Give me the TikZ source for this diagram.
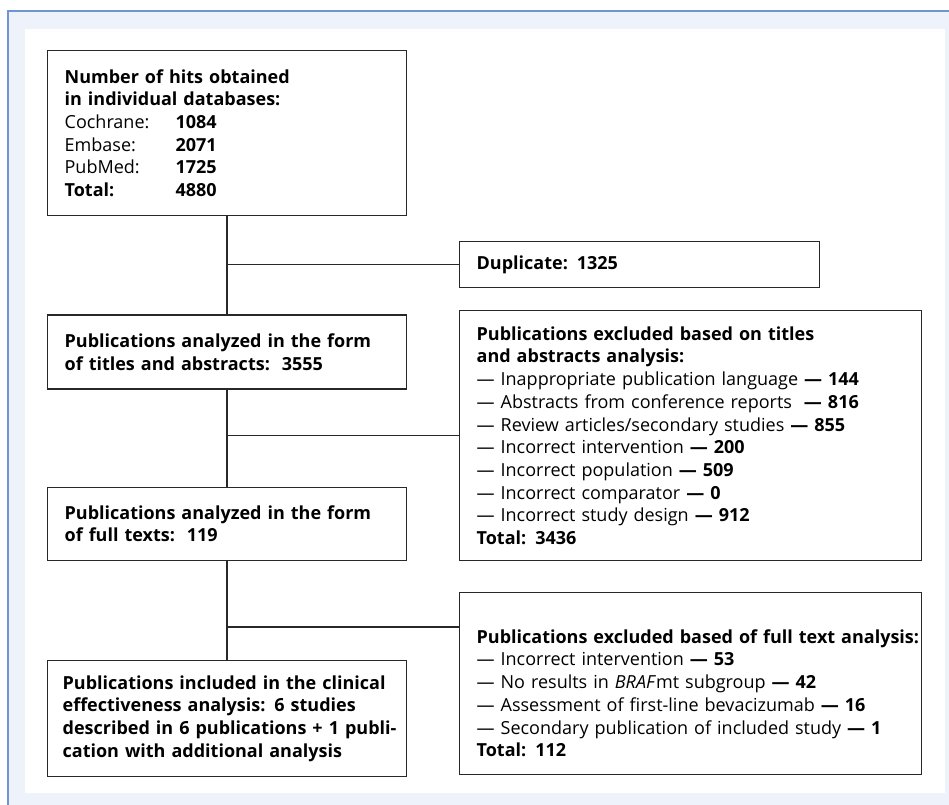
\documentclass[tikz,border=0pt]{standalone}
\usepackage{fontspec}
\setmainfont{Open Sans}
\usetikzlibrary{positioning,calc}
\definecolor{framebg}{RGB}{238,242,250}
\definecolor{frameline}{RGB}{110,150,210}
\definecolor{boxline}{RGB}{40,40,40}
\newcommand{\dbcount}[2]{\makebox[111pt][l]{#1}\textbf{#2}}

\begin{document}
\begin{tikzpicture}[
    x=1pt, y=1pt,
    font=\fontsize{18}{22.7}\selectfont,
    box/.style={draw=boxline, line width=1.3pt, align=left, inner xsep=17pt, inner ysep=0pt, anchor=north west},
    leftbox/.style={box, text width=325pt},
    rightbox/.style={box, text width=428pt},
    link/.style={draw=boxline, line width=1.4pt}
]
\useasboundingbox (0,0) rectangle (949,-804);
\begin{scope}
\clip (0,0) rectangle (949,-804);
\draw[frameline, fill=framebg, line width=1.2pt] (8,-11) rectangle (970,-830);
\end{scope}
\fill[white] (25,-29) rectangle (945,-793);

% left column
\node[leftbox, minimum height=165pt] (hits) at (47,-50) {\textbf{Number of hits obtained}\\\textbf{in individual databases:}\\
\dbcount{Cochrane:}{1084}\\\dbcount{Embase:}{2071}\\\dbcount{PubMed:}{1725}\\\dbcount{\textbf{Total:}}{4880}};
\node[leftbox, minimum height=74pt, below=98pt of hits] (titles) {\textbf{Publications analyzed in the form}\\\textbf{of titles and abstracts:\ \ 3555}};
\node[leftbox, minimum height=73pt, below=97pt of titles] (fulltext) {\textbf{Publications analyzed in the form}\\\textbf{of full texts:\ \ 119}};
\node[leftbox, minimum height=116pt, below=99pt of fulltext] (incl) {\hspace*{-2pt}\mbox{\textbf{Publications included in the clinical}}\\\hspace*{-2pt}\mbox{\textbf{effectiveness analysis: 6 studies}}\\\hspace*{-2pt}\mbox{\textbf{described in 6 publications + 1 publi-}}\\\hspace*{-2pt}\mbox{\textbf{cation with additional analysis}}};

% right column
\node[box, text width=326pt, minimum height=46pt] (dup) at (459,-241) {\textbf{Duplicate: 1325}};
\node[rightbox, minimum height=250pt] (exclta) at (459,-310) {\textbf{Publications excluded based on titles}\\\textbf{and abstracts analysis:}\\
— Inappropriate publication language \textbf{— 144}\\
— Abstracts from conference reports\ \ \textbf{— 816}\\
— Review articles/secondary studies \textbf{— 855}\\
— Incorrect intervention \textbf{— 200}\\
— Incorrect population \textbf{— 509}\\
— Incorrect comparator \textbf{— 0}\\
— Incorrect study design \textbf{— 912}\\
\textbf{Total: 3436}};
\node[rightbox, minimum height=182pt] (exclft) at (459,-592) {\rule{0pt}{33pt}\mbox{\textbf{Publications excluded based of full text analysis:}}\\
— Incorrect intervention \textbf{— 53}\\
— No results in \textit{BRAF}mt subgroup \textbf{— 42}\\
— Assessment of first-line bevacizumab \textbf{— 16}\\
— Secondary publication of included study \textbf{— 1}\\
\textbf{Total: 112}};

% connectors
\coordinate (split) at ($(fulltext.south)!0.667!(incl.north)$);
\draw[link] (hits) -- (titles);
\draw[link] (titles) -- (fulltext);
\draw[link] (fulltext) -- (incl);
\draw[link] (hits.south |- dup.west) -- (dup.west);
\draw[link] (titles.south |- exclta.west) -- (exclta.west);
\draw[link] (split) -- (split -| exclft.west);
\end{tikzpicture}
\end{document}
